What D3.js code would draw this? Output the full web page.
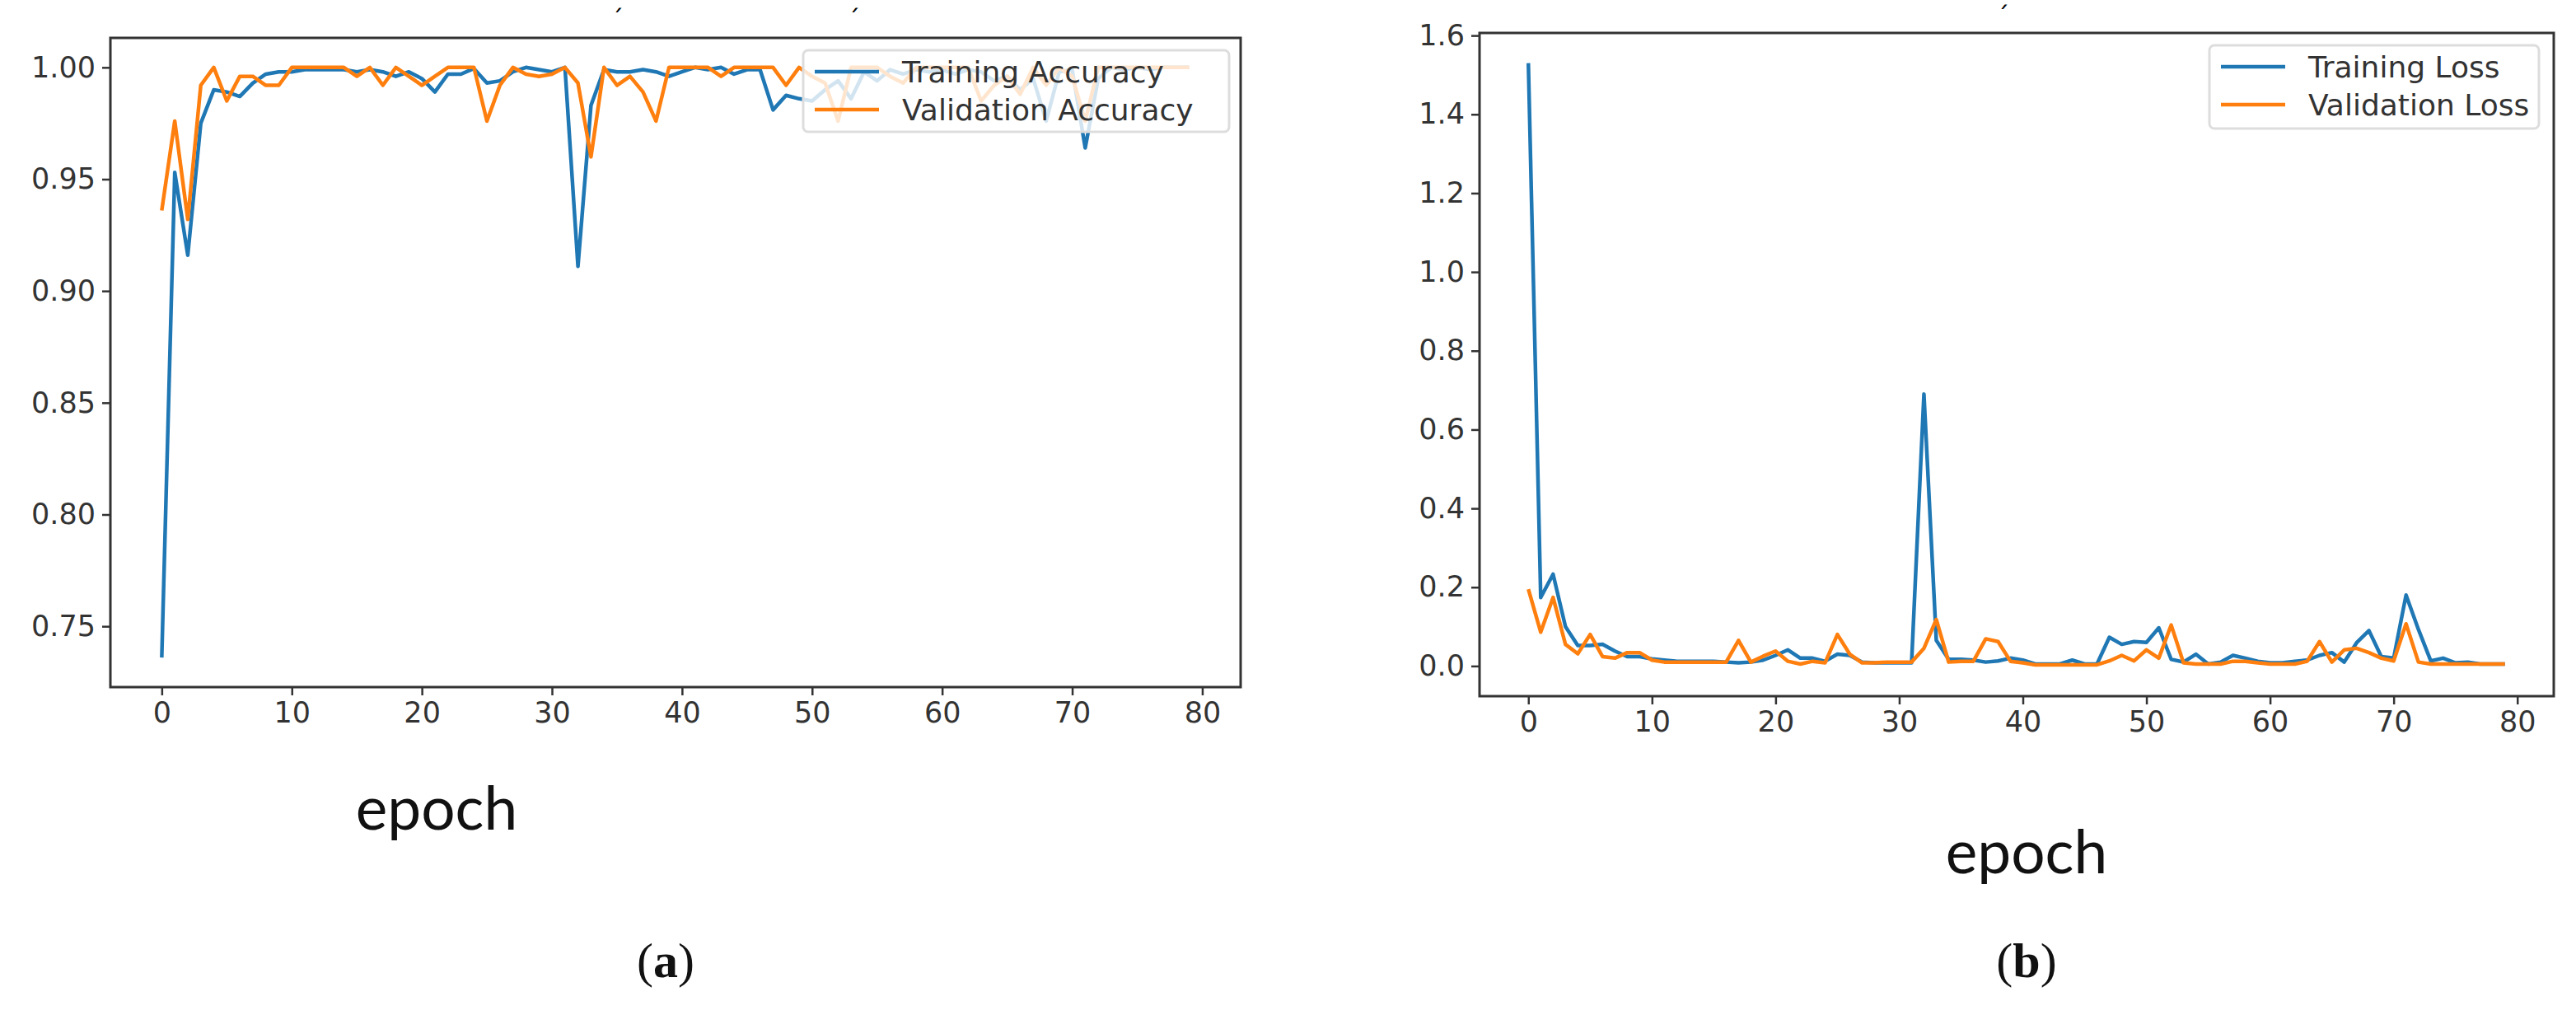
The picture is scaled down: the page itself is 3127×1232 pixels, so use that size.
<!DOCTYPE html>
<html><head><meta charset="utf-8">
<script src="https://cdn.jsdelivr.net/npm/d3@7"></script>
<style>body{margin:0;background:#fff}</style></head>
<body><svg id="c" width="3127" height="1232"></svg>
<script>
const epochs = d3.range(80);
const trainAcc = [0.736,0.953,0.916,0.975,0.990,0.989,0.987,0.993,0.997,0.998,
0.998,0.999,0.999,0.999,0.999,0.998,0.999,0.998,0.996,0.998,
0.995,0.989,0.997,0.997,0.9995,0.993,0.994,0.998,1.0,0.999,
0.998,1.0,0.911,0.983,0.999,0.998,0.998,0.999,0.998,0.996,
0.998,1.0,0.999,1.0,0.997,0.999,0.999,0.981,0.9875,0.986,
0.985,0.990,0.994,0.986,0.998,0.994,0.999,0.997,0.999,0.998,
0.999,0.997,0.999,0.998,0.994,0.996,0.990,0.995,0.976,0.998,
0.999,0.964,0.995,1.0,0.999,1.0,0.999,1.0,1.0,1.0];
const valAcc = [0.936,0.976,0.932,0.992,1.0,0.985,0.996,0.996,0.992,0.992,
1,1,1,1,1,0.996,1,0.992,1,0.996,
0.992,0.996,1,1,1,0.976,0.992,1,0.997,0.996,
0.997,1,0.993,0.960,1,0.992,0.996,0.989,0.976,1,
1,1,1,0.996,1,1,1,1,0.992,1,
0.996,0.993,0.976,1,1,1,0.996,0.993,1,1,
1,1,1,0.985,0.992,0.996,0.988,1,0.992,1,
0.996,0.976,1,1,1,1,1,1,1,1];
const trainLoss = [1.53,0.174,0.233,0.10,0.052,0.052,0.055,0.038,0.024,0.024,
0.018,0.015,0.012,0.012,0.012,0.012,0.010,0.008,0.010,0.015,
0.027,0.041,0.020,0.020,0.012,0.030,0.027,0.010,0.008,0.008,
0.008,0.008,0.69,0.065,0.017,0.017,0.015,0.010,0.013,0.020,
0.015,0.005,0.005,0.005,0.015,0.005,0.005,0.073,0.055,0.062,
0.060,0.097,0.017,0.010,0.030,0.005,0.010,0.027,0.020,0.012,
0.008,0.008,0.012,0.015,0.027,0.034,0.010,0.059,0.090,0.024,
0.020,0.180,0.093,0.013,0.020,0.008,0.010,0.005,0.005,0.005];
const valLoss = [0.195,0.086,0.174,0.055,0.031,0.080,0.024,0.020,0.034,0.034,
0.015,0.010,0.010,0.010,0.010,0.010,0.010,0.065,0.010,0.025,
0.038,0.012,0.005,0.012,0.008,0.080,0.030,0.008,0.008,0.010,
0.010,0.010,0.045,0.118,0.010,0.012,0.012,0.069,0.062,0.012,
0.008,0.003,0.003,0.003,0.003,0.003,0.003,0.013,0.027,0.013,
0.041,0.020,0.104,0.008,0.005,0.005,0.005,0.012,0.012,0.008,
0.005,0.005,0.005,0.012,0.062,0.010,0.041,0.045,0.034,0.020,
0.013,0.107,0.010,0.005,0.005,0.005,0.005,0.005,0.005,0.005];
const xTicks = [0,10,20,30,40,50,60,70,80];
const accTicks = [0.75,0.80,0.85,0.90,0.95,1.00];
const lossTicks = [0.0,0.2,0.4,0.6,0.8,1.0,1.2,1.4,1.6];
const accNames = ["Training Accuracy","Validation Accuracy"];
const lossNames = ["Training Loss","Validation Loss"];
const colors = ["#1f77b4","#ff7f0e"];

const svg = d3.select("#c");
const font = "'DejaVu Sans', sans-serif";

function panel(o){
  const x = d3.scaleLinear().domain([-3.95,82.95]).range([o.l,o.r]);
  const y = d3.scaleLinear().domain(o.yd).range([o.b,o.t]);
  const g = svg.append("g");
  const line = d3.line().x((d,i)=>x(epochs[i])).y(d=>y(d));
  o.series.forEach((s,k)=>{
    g.append("path").datum(s).attr("d",line).attr("fill","none")
     .attr("stroke",colors[k]).attr("stroke-width",4.5).attr("stroke-linejoin","round");
  });
  const xa = g.append("g").attr("transform",`translate(0,${o.b})`)
    .call(d3.axisBottom(x).tickValues(xTicks).tickSize(10).tickPadding(8).tickFormat(d3.format("d")));
  const ya = g.append("g").attr("transform",`translate(${o.l},0)`)
    .call(d3.axisLeft(y).tickValues(o.ticks).tickSize(10).tickPadding(8).tickFormat(d3.format(o.fmt)));
  [xa,ya].forEach(a=>{
    a.select(".domain").remove();
    a.selectAll("line").attr("stroke","#333").attr("stroke-width",2.5);
    a.selectAll("text").attr("font-family",font).attr("font-size",35).attr("fill","#333");
  });
  g.append("rect").attr("x",o.l).attr("y",o.t).attr("width",o.r-o.l).attr("height",o.b-o.t)
    .attr("fill","none").attr("stroke","#333").attr("stroke-width",3);
  const L = o.leg;
  g.append("rect").attr("x",L.x).attr("y",L.y).attr("width",L.w).attr("height",L.h)
    .attr("rx",6).attr("fill","#fff").attr("fill-opacity",0.8).attr("stroke","#ddd").attr("stroke-width",3);
  o.names.forEach((n,k)=>{
    const yy = L.y+26+k*46;
    g.append("line").attr("x1",L.x+14).attr("x2",L.x+92).attr("y1",yy).attr("y2",yy)
      .attr("stroke",colors[k]).attr("stroke-width",4.5);
    g.append("text").attr("x",L.x+120).attr("y",yy+13).text(n)
      .attr("font-family",font).attr("font-size",36).attr("fill","#333");
  });
  svg.append("text").attr("x",o.ex).attr("y",o.ey).attr("text-anchor","middle").text("epoch")
    .attr("font-family","'Lato', 'DejaVu Sans', sans-serif").attr("font-size",73).attr("fill","#111");
  const t = svg.append("text").attr("x",o.ex+o.lx).attr("y",1186).attr("text-anchor","middle")
    .attr("font-family","'Liberation Serif', serif").attr("font-size",60).attr("fill","#111");
  t.append("tspan").text("(");
  t.append("tspan").attr("font-weight","bold").text(o.letter);
  t.append("tspan").text(")");
}

panel({l:134,r:1506,t:46,b:834,yd:[0.7228,1.0132],ticks:accTicks,fmt:".2f",
  series:[trainAcc,valAcc],names:accNames,leg:{x:975,y:61,w:517,h:99},
  ex:530,ey:1007,lx:278,letter:"a"});
panel({l:1796,r:3100,t:40,b:845,yd:[-0.0765,1.6065],ticks:lossTicks,fmt:".1f",
  series:[trainLoss,valLoss],names:lossNames,leg:{x:2682,y:55,w:400,h:101},
  ex:2460,ey:1060,lx:0,letter:"b"});
svg.append("text").attr("x",742).attr("y",34).text("´").attr("font-size",30).attr("font-family",font);
svg.append("text").attr("x",1029).attr("y",34).text("´").attr("font-size",30).attr("font-family",font);
svg.append("text").attr("x",2424).attr("y",30).text("´").attr("font-size",30).attr("font-family",font);
</script></body></html>
